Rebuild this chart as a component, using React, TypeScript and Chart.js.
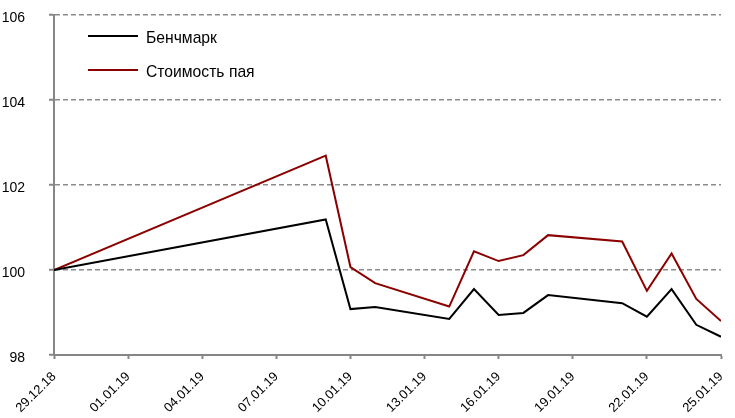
import React, { useEffect, useRef } from "react";
import { Chart, registerables } from "chart.js";

Chart.register(...registerables);

const dates = ["29.12.18", "09.01.19", "10.01.19", "11.01.19", "14.01.19", "15.01.19", "16.01.19", "17.01.19", "18.01.19", "21.01.19", "22.01.19", "23.01.19", "24.01.19", "25.01.19"];
const benchmark = [100, 101.19, 99.08, 99.13, 98.85, 99.55, 98.94, 98.99, 99.41, 99.22, 98.9, 99.55, 98.71, 98.43];
const navPerUnit = [100, 102.69, 100.07, 99.69, 99.14, 100.44, 100.21, 100.35, 100.82, 100.67, 99.51, 100.39, 99.32, 98.8];
const xTickLabels = ["29.12.18", "01.01.19", "04.01.19", "07.01.19", "10.01.19", "13.01.19", "16.01.19", "19.01.19", "22.01.19", "25.01.19"];
const yTicks = [98, 100, 102, 104, 106];
const seriesNames = ["Бенчмарк", "Стоимость пая"];
const seriesColors = ["#000000", "#8b0000"];

const toMs = (s: string) => {
  const [d, m, y] = s.split(".").map(Number);
  return Date.UTC(2000 + y, m - 1, d);
};
const baseMs = toMs(dates[0]);
const dayOf = (s: string) => Math.round((toMs(s) - baseMs) / 86400000);

const FONT = "'Liberation Sans', Arial, sans-serif";
const AXIS = "#868686";

const legendPlugin = {
  id: "insideLegend",
  afterDraw(chart: any) {
    const { ctx, chartArea } = chart;
    const rows = [21, 55];
    ctx.save();
    ctx.font = `15.7px ${FONT}`;
    ctx.textBaseline = "middle";
    ctx.textAlign = "left";
    seriesNames.forEach((name, i) => {
      const y = chartArea.top + rows[i];
      ctx.strokeStyle = seriesColors[i];
      ctx.lineWidth = 2;
      ctx.beginPath();
      ctx.moveTo(chartArea.left + 34, y);
      ctx.lineTo(chartArea.left + 84, y);
      ctx.stroke();
      ctx.fillStyle = "#000";
      ctx.fillText(name, chartArea.left + 92, y + 3);
    });
    ctx.restore();
  },
};

export default function App() {
  const ref = useRef<HTMLCanvasElement>(null);
  useEffect(() => {
    document.body.style.margin = "0";
    const xs = dates.map(dayOf);
    const chart = new Chart(ref.current!, {
      type: "line",
      data: {
        datasets: [
          {
            label: seriesNames[0],
            data: xs.map((x, i) => ({ x, y: benchmark[i] })),
            borderColor: seriesColors[0],
            borderWidth: 2,
            pointRadius: 0,
            tension: 0,
          },
          {
            label: seriesNames[1],
            data: xs.map((x, i) => ({ x, y: navPerUnit[i] })),
            borderColor: seriesColors[1],
            borderWidth: 2,
            pointRadius: 0,
            tension: 0,
          },
        ],
      },
      options: {
        animation: false,
        responsive: false,
        layout: { padding: { top: 15, right: 14, left: 0, bottom: 0 } },
        plugins: { legend: { display: false }, tooltip: { enabled: false } },
        scales: {
          x: {
            type: "linear",
            min: 0,
            max: dayOf(xTickLabels[xTickLabels.length - 1]),
            afterBuildTicks: (scale: any) => {
              scale.ticks = xTickLabels.map((l) => ({ value: dayOf(l) }));
            },
            afterFit: (scale: any) => {
              scale.height = 63;
              scale.paddingLeft = 0;
              scale.paddingRight = 0;
            },
            grid: {
              drawOnChartArea: false,
              drawTicks: true,
              tickLength: 4,
              tickColor: AXIS,
              tickWidth: 2,
              color: AXIS,
            },
            border: { display: true, color: AXIS, width: 2 },
            ticks: {
              autoSkip: false,
              minRotation: 45,
              maxRotation: 45,
              padding: 10,
              color: "#000",
              font: { family: FONT, size: 13 },
              callback: (v: any) => {
                const idx = xTickLabels.findIndex((l) => dayOf(l) === v);
                return idx >= 0 ? xTickLabels[idx] : "";
              },
            },
          },
          y: {
            min: yTicks[0],
            max: yTicks[yTicks.length - 1],
            afterBuildTicks: (scale: any) => {
              scale.ticks = yTicks.map((v) => ({ value: v }));
            },
            afterFit: (scale: any) => {
              scale.width = 54;
              scale.paddingTop = 0;
              scale.paddingBottom = 0;
            },
            grid: {
              drawOnChartArea: true,
              drawTicks: true,
              tickLength: 5,
              tickColor: AXIS,
              tickWidth: 2,
              tickBorderDash: [],
              lineWidth: 1.5,
              color: (ctx: any) => (ctx.tick && ctx.tick.value === yTicks[0] ? "rgba(0,0,0,0)" : "#8c8c8c"),
            },
            border: { display: true, color: AXIS, width: 2, dash: [5, 3] },
            ticks: {
              padding: 24,
              labelOffset: 3,
              color: "#000",
              font: { family: FONT, size: 14 },
              callback: (v: any) => String(v),
            },
          },
        },
      },
      plugins: [legendPlugin],
    });
    return () => chart.destroy();
  }, []);
  return (
    <div style={{ width: 735, height: 418 }}>
      <canvas ref={ref} width={735} height={418} />
    </div>
  );
}
